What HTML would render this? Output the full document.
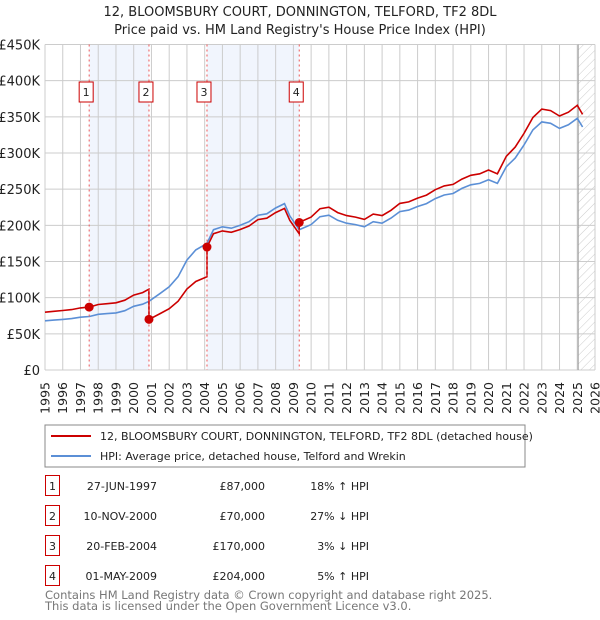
<!DOCTYPE html>
<html><head><meta charset="utf-8"><style>
body{margin:0;background:#fff;font-family:"DejaVu Sans","Liberation Sans",sans-serif;}
#wrap{position:relative;width:600px;height:620px;overflow:hidden;}
svg text{font-family:"DejaVu Sans","Liberation Sans",sans-serif;}
</style></head><body><div id="wrap">
<svg id="chart" width="600" height="620">
<defs><pattern id="hatch" width="6" height="6" patternUnits="userSpaceOnUse" patternTransform="rotate(45)"><line x1="0" y1="0" x2="0" y2="6" stroke="#ccc" stroke-width="1"/></pattern></defs>
<text x="300" y="16" text-anchor="middle" font-size="13" fill="#222">12, BLOOMSBURY COURT, DONNINGTON, TELFORD, TF2 8DL</text>
<text x="300" y="34" text-anchor="middle" font-size="13" fill="#222">Price paid vs. HM Land Registry's House Price Index (HPI)</text>
<g id="bg"></g><g id="grid"></g><g id="lines"></g><g id="marks"></g>
<rect x="45" y="425" width="480" height="42" fill="#fff" stroke="#888" stroke-width="1"/>
<line x1="51" y1="436" x2="91" y2="436" stroke="#cc0000" stroke-width="2"/>
<text x="100" y="440" font-size="11" fill="#222">12, BLOOMSBURY COURT, DONNINGTON, TELFORD, TF2 8DL (detached house)</text>
<line x1="51" y1="456" x2="91" y2="456" stroke="#5b8fd6" stroke-width="2"/>
<text x="100" y="460" font-size="11" fill="#222">HPI: Average price, detached house, Telford and Wrekin</text>
<g id="table"></g>
<text x="45" y="599" font-size="11.5" fill="#777">Contains HM Land Registry data © Crown copyright and database right 2025.</text>
<text x="45" y="610" font-size="11.5" fill="#777">This data is licensed under the Open Government Licence v3.0.</text>
</svg>
<script>
const hpiYears=[1995,1995.5,1996,1996.5,1997,1997.5,1998,1998.5,1999,1999.5,2000,2000.5,2000.86,2001.5,2002,2002.5,2003,2003.5,2004.13,2004.5,2005,2005.5,2006,2006.5,2007,2007.5,2008,2008.5,2008.8,2009.33,2010,2010.5,2011,2011.5,2012,2012.5,2013,2013.5,2014,2014.5,2015,2015.5,2016,2016.5,2017,2017.5,2018,2018.5,2019,2019.5,2020,2020.5,2021,2021.5,2022,2022.5,2023,2023.5,2024,2024.5,2025,2025.3];
const hpiValues=[68,69,70,71,73,74,77,78,79,82,88,91,95,106,115,129,152,166,175,194,198,196,200,205,214,216,224,230,213,194,201,212,214,207,203,201,198,205,203,210,219,221,226,230,237,242,244,251,256,258,263,258,281,293,311,332,343,341,334,339,348,336];
const saleYears=[1997.49,2000.86,2004.13,2009.33];
const salePrices=[87,70,170,204];
const saleLabels=["1","2","3","4"];
const saleDates=["27-JUN-1997","10-NOV-2000","20-FEB-2004","01-MAY-2009"];
const salePriceText=["£87,000","£70,000","£170,000","£204,000"];
const saleHpiText=["18% ↑ HPI","27% ↓ HPI","3% ↓ HPI","5% ↑ HPI"];
const yTicks=[0,50,100,150,200,250,300,350,400,450];
const yTickLabels=["£0","£50K","£100K","£150K","£200K","£250K","£300K","£350K","£400K","£450K"];
const xTicks=[1995,1996,1997,1998,1999,2000,2001,2002,2003,2004,2005,2006,2007,2008,2009,2010,2011,2012,2013,2014,2015,2016,2017,2018,2019,2020,2021,2022,2023,2024,2025,2026];
const NS="http://www.w3.org/2000/svg";
const X0=45,X1=595,Y0=370,Y1=44.5;
const xs=y=>X0+(y-1995)/(2026-1995)*(X1-X0);
const ys=v=>Y0-v/450*(Y0-Y1);
function mk(tag,attrs,parent){const e=document.createElementNS(NS,tag);for(const k in attrs)e.setAttribute(k,attrs[k]);parent.appendChild(e);return e;}
const bg=document.getElementById('bg'),grid=document.getElementById('grid'),lines=document.getElementById('lines'),marks=document.getElementById('marks'),tbl=document.getElementById('table');
for(let i=0;i<saleYears.length;i+=2){const a=saleYears[i],b=saleYears[i+1];
 const r=mk('rect',{x:xs(a),y:Y1,width:xs(b)-xs(a),height:Y0-Y1,fill:'#eef3fc',opacity:0.8},bg);
 
 }
const hz=mk('rect',{x:xs(2025.05),y:Y1,width:X1-xs(2025.05),height:Y0-Y1,fill:'url(#hatch)'},bg);


yTicks.forEach((v,i)=>{mk('line',{x1:X0,x2:X1,y1:ys(v),y2:ys(v),stroke:'#ccc','stroke-width':1},grid);
 const t=mk('text',{x:40,y:ys(v)+5,'text-anchor':'end','font-size':13,fill:'#222'},grid);t.textContent=yTickLabels[i];
 
 });
xTicks.forEach(y=>{mk('line',{x1:xs(y),x2:xs(y),y1:Y1,y2:Y0,stroke:'#ccc','stroke-width':1},grid);
 const t=mk('text',{x:0,y:0,'text-anchor':'end','font-size':12.5,fill:'#222',transform:`translate(${xs(y)+4.5},382) rotate(-90)`},grid);t.textContent=y;
 
 });
mk('line',{x1:xs(2025.05),x2:xs(2025.05),y1:Y1,y2:Y0,stroke:'#999','stroke-width':1},grid);
function hpiAt(t){for(let i=0;i<hpiYears.length-1;i++){if(t<=hpiYears[i+1]){const f=(t-hpiYears[i])/(hpiYears[i+1]-hpiYears[i]);return hpiValues[i]+f*(hpiValues[i+1]-hpiValues[i]);}}return hpiValues[hpiValues.length-1];}
const bp=hpiYears.map((y,i)=>`${xs(y).toFixed(1)},${ys(hpiValues[i]).toFixed(1)}`).join(' ');
const bl=mk('polyline',{points:bp,fill:'none',stroke:'#5b8fd6','stroke-width':1.6},lines);


let pts=[];
hpiYears.forEach((y,i)=>{let k=0;for(let j=0;j<saleYears.length;j++)if(y>=saleYears[j])k=j;
 pts.push([y,hpiValues[i]*salePrices[k]/hpiAt(saleYears[k])]);});
saleYears.forEach((y,j)=>{const prev=j>0?salePrices[j-1]/hpiAt(saleYears[j-1])*hpiAt(y):salePrices[0];pts.push([y-0.001,prev]);pts.push([y,salePrices[j]]);});
pts.sort((a,b)=>a[0]-b[0]);
const rl=mk('polyline',{points:pts.map(p=>`${xs(p[0]).toFixed(1)},${ys(p[1]).toFixed(1)}`).join(' '),fill:'none',stroke:'#cc0000','stroke-width':1.6},lines);


saleYears.forEach((y,i)=>{
 const d=mk('line',{x1:xs(y),x2:xs(y),y1:Y1,y2:Y0,stroke:'#e55','stroke-width':1,'stroke-dasharray':'2,3'},marks);
 
 
 const c=mk('circle',{cx:xs(y),cy:ys(salePrices[i]),r:4.5,fill:'#cc0000'},marks);
 
 
 const b=mk('rect',{x:xs(y)-10,y:82,width:14,height:20,fill:'#fff',stroke:'#cc0000','stroke-width':1},marks);
 
 
 const t=mk('text',{x:xs(y)-3,y:96,'text-anchor':'middle','font-size':11,fill:'#222'},marks);t.textContent=saleLabels[i];
 
 
 const ry=486+i*30;
 const nb=mk('rect',{x:45.5,y:ry-10.5,width:14,height:20,fill:'#fff',stroke:'#cc0000','stroke-width':1},tbl);
 
 
 const cells=[[52.5,saleLabels[i],'middle'],[157,saleDates[i],'end'],[265,salePriceText[i],'end'],[369,saleHpiText[i],'end']];
 cells.forEach((c,ci)=>{const tt=mk('text',{x:c[0],y:ry+4,'text-anchor':c[2],'font-size':11,fill:'#222'},tbl);tt.textContent=c[1];
  
  });
});
</script></div></body></html>
